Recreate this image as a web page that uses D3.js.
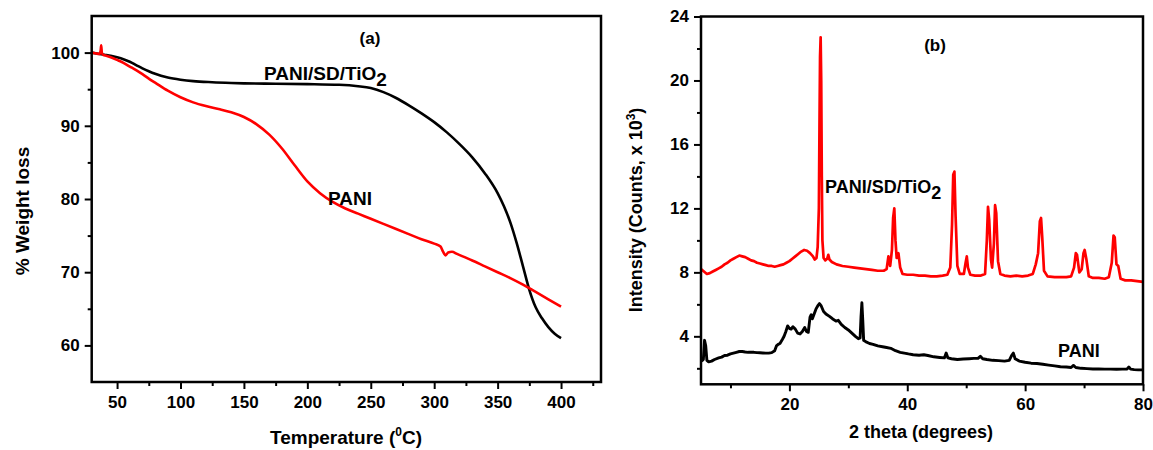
<!DOCTYPE html>
<html><head><meta charset="utf-8">
<script src="https://cdn.jsdelivr.net/npm/d3@7"></script>
<style>
html,body{margin:0;padding:0;background:#fff;}
svg text{font-family:"Liberation Sans",Arial,sans-serif;font-weight:bold;fill:#000;}
</style></head>
<body><svg id="c" width="1153" height="450"></svg>
<script>
// ---- Panel (a): TGA ----
const tgaXTicks = [50,100,150,200,250,300,350,400];
const tgaYTicks = [60,70,80,90,100];
const tgaComposite = [[30,100],[35,99.85],[40,99.7],[45,99.55],[50,99.35],[55,99.1],[60,98.75],[65,98.3],[70,97.85],[75,97.45],[80,97.1],[90,96.6],[100,96.3],[110,96.1],[125,95.95],[140,95.85],[150,95.8],[175,95.75],[200,95.7],[225,95.6],[240,95.4],[250,95.15],[260,94.6],[270,93.8],[280,92.8],[290,91.7],[300,90.5],[310,89.1],[320,87.5],[330,85.7],[340,83.5],[350,80.8],[355,79.0],[360,76.8],[365,74.0],[370,70.8],[375,67.6],[380,65.2],[385,63.7],[390,62.5],[395,61.6],[400,61.0]];
const tgaPani = [[30,100],[33,99.9],[36,99.8],[37,100.2],[37.5,101.0],[38,100.0],[39,99.7],[42,99.55],[46,99.3],[50,99.0],[55,98.6],[60,98.1],[65,97.6],[70,97.05],[75,96.45],[80,95.9],[90,94.8],[100,93.9],[110,93.2],[120,92.7],[130,92.3],[140,91.85],[150,91.2],[160,90.2],[170,88.8],[180,86.9],[190,84.6],[200,82.4],[210,80.8],[220,79.6],[230,78.7],[240,78.0],[250,77.3],[260,76.6],[270,75.9],[280,75.2],[290,74.5],[300,73.9],[305,73.5],[307,72.8],[309,72.3],[311,72.7],[314,72.8],[318,72.5],[330,71.6],[340,70.8],[350,70.0],[360,69.2],[370,68.3],[380,67.3],[390,66.3],[400,65.3]];

// ---- Panel (b): XRD ----
const xrdXTicks = [20,40,60,80];
const xrdYTicks = [4,8,12,16,20,24];
const xrdComposite = [[5,8.2],[5.5,8.05],[6,7.9],[6.5,7.95],[7,8.05],[7.5,8.15],[8,8.25],[8.5,8.35],[9,8.5],[9.5,8.6],[10,8.75],[10.5,8.85],[11,8.95],[11.5,9.05],[12,9.0],[12.5,8.95],[13,8.85],[13.5,8.75],[14,8.7],[14.5,8.6],[15,8.55],[15.5,8.5],[16,8.45],[16.5,8.4],[17,8.4],[17.5,8.35],[18,8.4],[18.5,8.45],[19,8.5],[19.5,8.6],[20,8.7],[20.5,8.85],[21,9.0],[21.5,9.15],[22,9.3],[22.5,9.4],[23,9.35],[23.5,9.2],[24,9.0],[24.3,8.8],[24.6,8.9],[24.8,9.6],[25,12],[25.1,17],[25.2,21.5],[25.3,22.7],[25.4,20],[25.5,14],[25.6,10],[25.8,8.9],[26.1,8.75],[26.4,8.85],[26.6,9.1],[26.8,8.8],[27.2,8.65],[28,8.5],[29,8.4],[30,8.35],[31,8.3],[32,8.25],[33,8.2],[34,8.15],[35,8.1],[36,8.1],[36.5,8.2],[36.8,9.0],[37.1,8.4],[37.4,9.4],[37.6,11.4],[37.8,12.0],[38.0,10.0],[38.2,8.9],[38.5,9.2],[38.8,8.3],[39.2,7.9],[40,7.85],[41,7.85],[42,7.8],[43,7.8],[44,7.75],[45,7.75],[46,7.8],[46.8,7.85],[47.3,8.3],[47.6,11],[47.8,14.1],[48.0,14.3],[48.2,11.5],[48.5,8.4],[48.9,7.9],[49.6,7.9],[49.9,8.6],[50.1,9.0],[50.3,8.3],[50.7,7.85],[51.5,7.8],[52.5,7.8],[53.2,7.9],[53.5,10],[53.7,12.1],[53.9,11.3],[54.2,8.8],[54.4,8.3],[54.7,9.8],[54.9,12.2],[55.1,11.7],[55.4,8.7],[55.8,7.9],[56.5,7.8],[57.5,7.75],[58.5,7.8],[59.5,7.75],[60.5,7.8],[61.3,7.9],[61.8,8.5],[62.2,9.2],[62.5,11.2],[62.7,11.4],[62.9,10.2],[63.2,8.1],[63.8,7.75],[65,7.7],[66,7.7],[67,7.7],[67.8,7.75],[68.3,8.3],[68.6,9.2],[68.8,9.1],[69.2,8.0],[69.6,8.2],[69.9,9.2],[70.1,9.4],[70.4,8.8],[70.8,7.75],[71.5,7.65],[72.5,7.65],[73.5,7.6],[74.2,7.7],[74.7,8.6],[75.0,10.3],[75.2,10.2],[75.5,8.5],[75.8,8.4],[76.2,7.6],[77,7.5],[78,7.5],[79,7.45],[80,7.4]];
const xrdPani = [[5.1,2.45],[5.4,2.55],[5.6,3.75],[5.8,3.4],[6.0,2.5],[6.3,2.4],[6.8,2.45],[7.3,2.55],[8,2.65],[8.5,2.7],[9,2.8],[9.5,2.82],[10,2.9],[10.5,2.95],[11,3.0],[11.5,3.05],[12,3.05],[12.5,3.02],[13,3.0],[13.5,3.0],[14,3.0],[14.5,2.98],[15,2.97],[15.5,2.96],[16,2.95],[16.5,2.95],[17,2.98],[17.5,3.1],[17.8,3.4],[18.1,3.5],[18.4,3.55],[18.8,3.8],[19.1,4.0],[19.4,4.3],[19.7,4.65],[20.0,4.5],[20.3,4.45],[20.6,4.6],[21.0,4.45],[21.4,4.2],[21.8,4.15],[22.2,4.3],[22.6,4.55],[22.9,4.3],[23.2,4.25],[23.5,5.2],[23.7,5.35],[23.9,5.1],[24.2,5.4],[24.5,5.7],[24.8,5.9],[25.1,6.05],[25.4,5.9],[25.8,5.55],[26.2,5.4],[26.8,5.25],[27.3,5.1],[27.9,4.95],[28.3,5.0],[28.8,4.75],[29.4,4.55],[30,4.4],[30.6,4.2],[31.2,4.0],[31.7,3.85],[32.0,3.9],[32.15,5.2],[32.3,6.1],[32.45,5.0],[32.6,3.75],[33,3.65],[33.6,3.55],[34.2,3.5],[35,3.4],[35.8,3.35],[36.5,3.3],[37.2,3.25],[38,3.1],[38.8,3.0],[39.5,2.95],[40.2,2.9],[41,2.85],[42,2.82],[42.8,2.85],[43.5,2.8],[44.5,2.72],[45.5,2.68],[46.3,2.65],[46.6,2.95],[46.9,2.65],[47.5,2.6],[48.5,2.55],[49.5,2.58],[50.5,2.6],[51.3,2.62],[52,2.62],[52.4,2.75],[52.8,2.6],[53.5,2.55],[54.5,2.5],[55.5,2.48],[56.5,2.45],[57.3,2.5],[57.7,2.8],[58,2.95],[58.3,2.6],[59,2.45],[60,2.38],[61,2.32],[62,2.3],[63,2.25],[64,2.2],[65,2.15],[66,2.1],[67,2.08],[67.8,2.05],[68.2,2.18],[68.6,2.05],[69.5,2.0],[70.5,1.98],[71.5,1.96],[72.5,1.96],[73.5,1.95],[74.5,1.95],[75.5,1.94],[76.5,1.95],[77.3,1.96],[77.6,2.08],[77.9,1.95],[78.5,1.92],[79.2,1.9],[80,1.9]];

const svg = d3.select("#c");

function frame(x, y, xMajor, xMinor, yMajor, yMinor, fs){
  const g = svg.append("g");
  const [x0,x1] = x.range(), [y0,y1] = y.range();
  g.append("g").attr("transform",`translate(0,${y0})`)
    .call(d3.axisBottom(x).tickValues(xMajor).tickSize(7).tickSizeOuter(0).tickPadding(7));
  g.append("g").attr("transform",`translate(0,${y0})`)
    .call(d3.axisBottom(x).tickValues(xMinor).tickSize(4).tickSizeOuter(0).tickFormat(""));
  g.append("g").attr("transform",`translate(${x0},0)`)
    .call(d3.axisLeft(y).tickValues(yMajor).tickSize(7).tickSizeOuter(0).tickPadding(5));
  g.append("g").attr("transform",`translate(${x0},0)`)
    .call(d3.axisLeft(y).tickValues(yMinor).tickSize(4).tickSizeOuter(0).tickFormat(""));
  g.selectAll(".domain").remove();
  g.selectAll(".tick line").attr("stroke","#000").attr("stroke-width",2);
  g.selectAll(".tick text").attr("font-size",fs).attr("font-family","'Liberation Sans',Arial,sans-serif").attr("font-weight","bold").attr("fill","#000");
  g.append("rect").attr("x",x0).attr("y",y1).attr("width",x1-x0).attr("height",y0-y1)
    .attr("fill","none").attr("stroke","#000").attr("stroke-width",2.5);
  return g;
}

// Panel (a)
const xa = d3.scaleLinear().domain([30,431.5]).range([91.7,601]);
const ya = d3.scaleLinear().domain([55,105]).range([382,16]);
const ga = svg.append("g");
const lineA = d3.line().x(d=>xa(d[0])).y(d=>ya(d[1])).curve(d3.curveMonotoneX);
ga.append("path").datum(tgaComposite).attr("d",lineA).attr("fill","none").attr("stroke","#000").attr("stroke-width",2.6);
ga.append("path").datum(tgaPani).attr("d",lineA).attr("fill","none").attr("stroke","#ff0000").attr("stroke-width",2.6);
frame(xa, ya, tgaXTicks, [75,125,175,225,275,325,375,425], tgaYTicks, [65,75,85,95], 17);

svg.append("text").attr("x",370).attr("y",44).attr("text-anchor","middle").attr("font-size",17).text("(a)");
const la = svg.append("text").attr("x",264).attr("y",80).attr("font-size",19);
la.append("tspan").text("PANI/SD/TiO");
la.append("tspan").attr("dy",6).attr("font-size",19).text("2");
svg.append("text").attr("x",328).attr("y",205).attr("font-size",19).text("PANI");
svg.append("text").attr("transform","translate(29,211) rotate(-90)").attr("text-anchor","middle").attr("font-size",19).text("% Weight loss");
const ta = svg.append("text").attr("x",346).attr("y",444).attr("text-anchor","middle").attr("font-size",19);
ta.append("tspan").text("Temperature (");
ta.append("tspan").attr("dy",-8).attr("font-size",12).text("0");
ta.append("tspan").attr("dy",8).text("C)");

// Panel (b)
const xb = d3.scaleLinear().domain([5,80]).range([701,1143]);
const yb = d3.scaleLinear().domain([1,24]).range([384.3,16.5]);
const gb = svg.append("g");
const lineB = d3.line().x(d=>xb(d[0])).y(d=>yb(d[1]));
gb.append("path").datum(xrdComposite).attr("d",lineB).attr("fill","none").attr("stroke","#ff0000").attr("stroke-width",2.7).attr("stroke-linejoin","round");
gb.append("path").datum(xrdPani).attr("d",lineB).attr("fill","none").attr("stroke","#000").attr("stroke-width",2.9).attr("stroke-linejoin","round");
frame(xb, yb, xrdXTicks, [10,30,50,70], xrdYTicks, [2,6,10,14,18,22], 17);

svg.append("text").attr("x",935).attr("y",51).attr("text-anchor","middle").attr("font-size",17).text("(b)");
const lb = svg.append("text").attr("x",825).attr("y",193).attr("font-size",18);
lb.append("tspan").text("PANI/SD/TiO");
lb.append("tspan").attr("dy",6).attr("font-size",18).text("2");
svg.append("text").attr("x",1058).attr("y",357).attr("font-size",18).text("PANI");
const yt = svg.append("text").attr("transform","translate(642,210) rotate(-90)").attr("text-anchor","middle").attr("font-size",18);
yt.append("tspan").text("Intensity (Counts, x 10");
yt.append("tspan").attr("dy",-7).attr("font-size",12).text("3");
yt.append("tspan").attr("dy",7).text(")");
svg.append("text").attr("x",921).attr("y",438).attr("text-anchor","middle").attr("font-size",18).text("2 theta (degrees)");
</script></body></html>
